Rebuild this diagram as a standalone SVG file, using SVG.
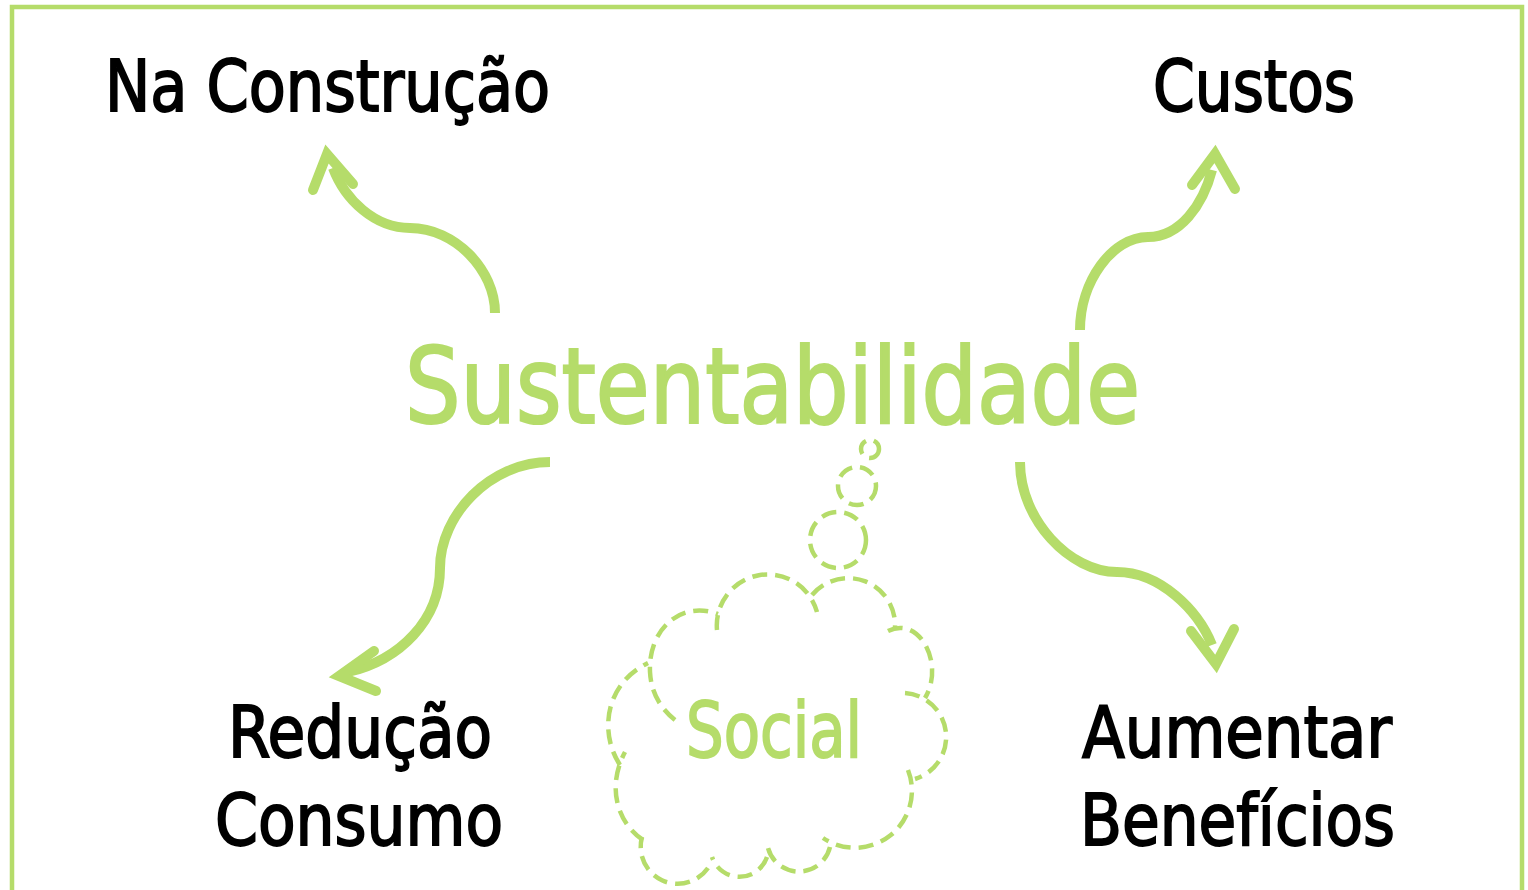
<svg xmlns="http://www.w3.org/2000/svg" width="1528" height="890" viewBox="0 0 1528 890">
<defs>
<style>
.frame{fill:none;stroke:#b5dc6a;stroke-width:4.5}
.arrow{fill:none;stroke:#b5dc6a;stroke-width:10}
.head{fill:none;stroke:#b5dc6a;stroke-width:10;stroke-linecap:round;stroke-linejoin:miter;stroke-miterlimit:10}
.lbl{font-family:"DejaVu Sans Condensed","Liberation Sans Narrow","Liberation Sans",sans-serif;font-weight:normal;fill:#000;stroke:#000;stroke-width:1.8}
.k{font-size:72px}
.big{font-size:106px;fill:#b5dc6a;stroke:#b5dc6a;stroke-width:2.2}
.soc{font-size:76px;fill:#b5dc6a;stroke:#b5dc6a}
.cloud{fill:none;stroke:#b5dc6a;stroke-width:4.5;stroke-dasharray:15 8}
</style>
</defs>
<rect class="frame" x="12" y="7" width="1510" height="900"/>
<g id="connectors">
<path class="arrow" d="M495,313 C495,270 455,228 410,228 C375,228 345,200 333,168"/>
<polyline class="head" points="313,190 327,154 353,184"/>
<path class="arrow" d="M1080,330 C1080,282 1112,237 1148,237 C1180,237 1203,205 1212,170"/>
<polyline class="head" points="1192,185 1215,154 1235,189"/>
<path class="arrow" d="M550,462 C490,462 440,515 440,568 C440,620 400,660 348,672"/>
<polyline class="head" points="374,651 339,676 376,691"/>
<path class="arrow" d="M1020,462 C1020,520 1070,572 1117,572 C1160,572 1198,610 1212,645"/>
<polyline class="head" points="1191,631 1216,664 1234,629"/>
</g>
<g id="node-sustentabilidade">
<text class="lbl big" x="405" y="423" textLength="735" lengthAdjust="spacingAndGlyphs">Sustentabilidade</text>
</g>
<g id="node-construcao">
<text class="lbl k" x="105" y="111" textLength="445" lengthAdjust="spacingAndGlyphs">Na Construção</text>
</g>
<g id="node-custos">
<text class="lbl k" x="1153" y="111" textLength="202" lengthAdjust="spacingAndGlyphs">Custos</text>
</g>
<g id="node-reducao">
<text class="lbl k" x="228" y="757" textLength="264" lengthAdjust="spacingAndGlyphs">Redução</text>
<text class="lbl k" x="215" y="845" textLength="288" lengthAdjust="spacingAndGlyphs">Consumo</text>
</g>
<g id="node-aumentar">
<text class="lbl k" x="1082" y="757" textLength="310" lengthAdjust="spacingAndGlyphs">Aumentar</text>
<text class="lbl k" x="1080" y="845" textLength="315" lengthAdjust="spacingAndGlyphs">Benefícios</text>
</g>
<g id="node-social">
<circle class="cloud" cx="870" cy="449" r="9" stroke-dasharray="12 6"/>
<circle class="cloud" cx="857" cy="486" r="19" stroke-dasharray="13 7"/>
<circle class="cloud" cx="838" cy="540" r="28"/>
<path class="cloud" d="M717,630 A51,51 0 0 1 817,612"/>
<path class="cloud" d="M812,595 A47,47 0 0 1 895,628"/>
<path class="cloud" d="M888,631 C920,615 945,665 925,698"/>
<path class="cloud" d="M905,693 A44,44 0 0 1 915,779"/>
<path class="cloud" d="M908,770 A57,57 0 0 1 823,838"/>
<path class="cloud" d="M830,847 A32,32 0 0 1 768,848"/>
<path class="cloud" d="M767,857 A29,29 0 0 1 712,857"/>
<path class="cloud" d="M708,868 A37,37 0 0 1 642,837"/>
<path class="cloud" d="M643,840 C620,825 605,790 625,752"/>
<path class="cloud" d="M620,765 C600,735 603,685 648,663"/>
<path class="cloud" d="M675,720 C660,708 651,692 650,672 C648,630 680,600 718,614"/>
<text class="lbl soc" x="686" y="757" textLength="176" lengthAdjust="spacingAndGlyphs">Social</text>
</g>
</svg>
